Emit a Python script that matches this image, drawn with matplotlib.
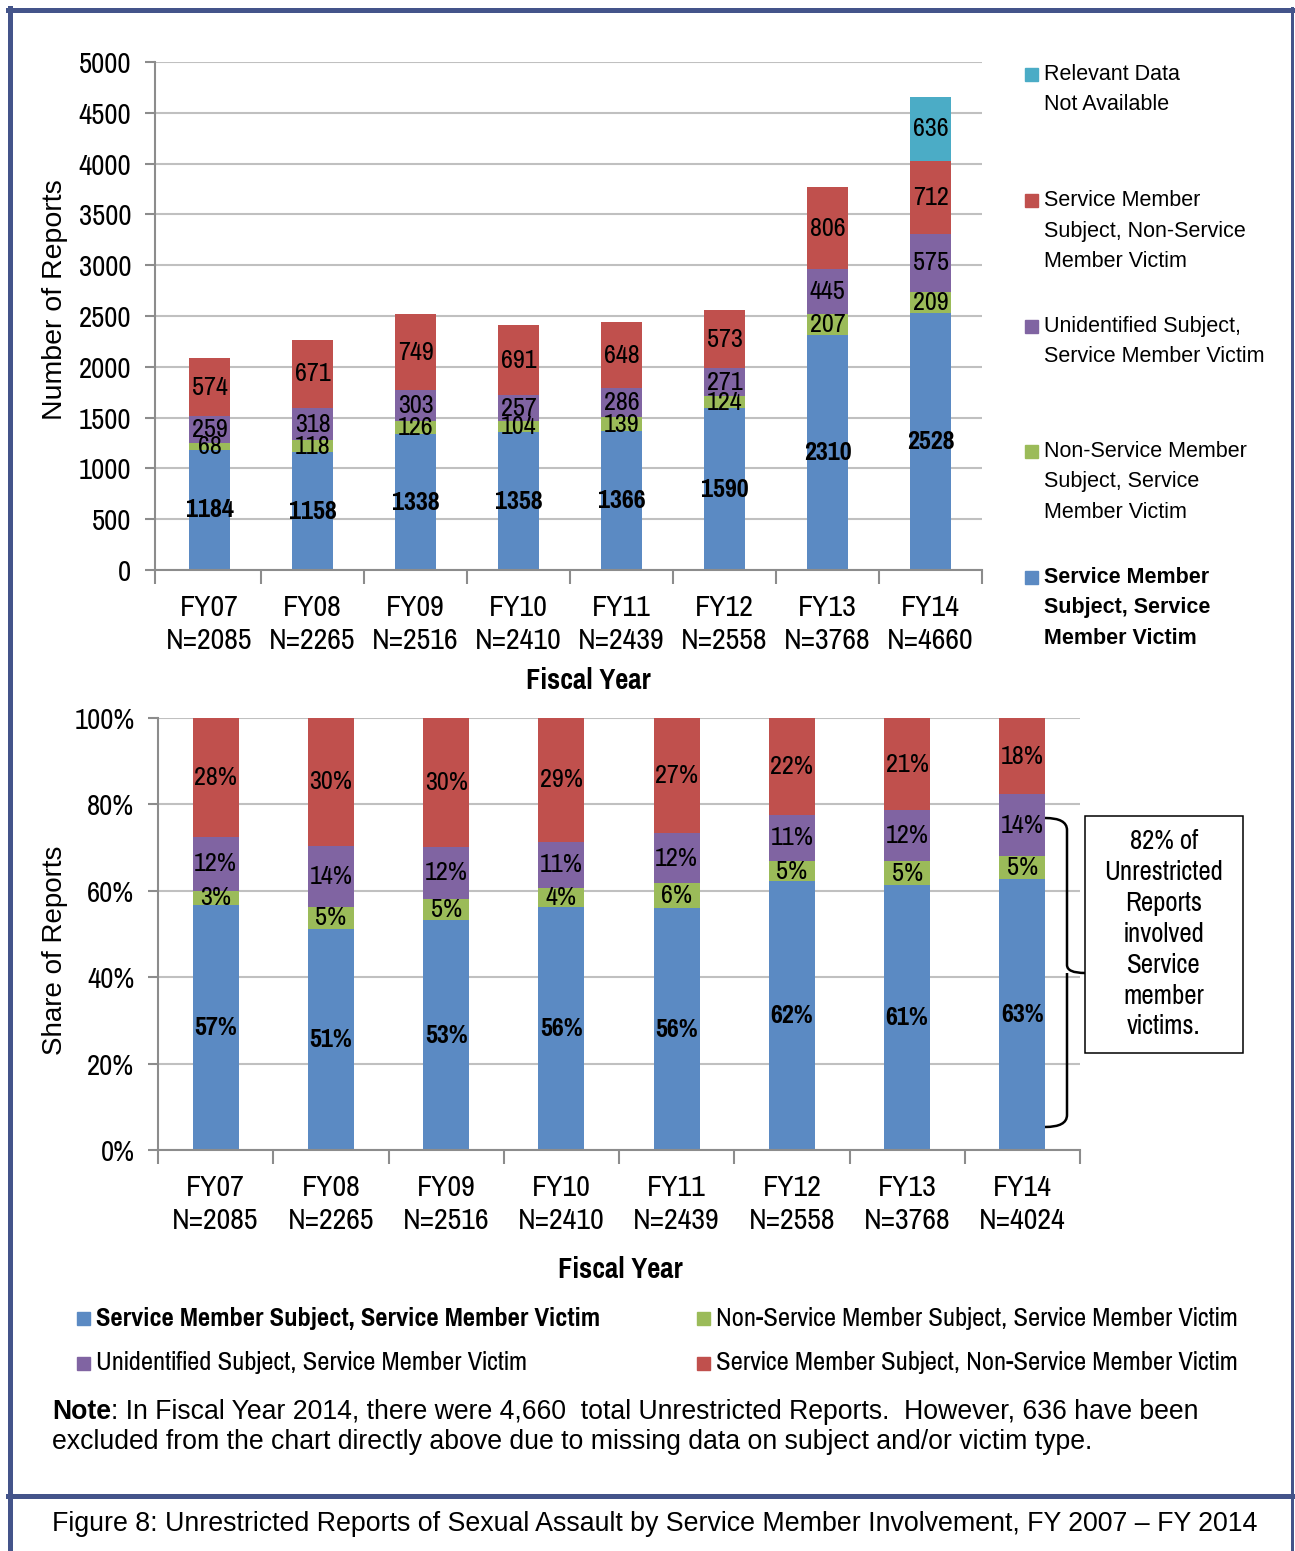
import matplotlib
matplotlib.use("Agg")
import matplotlib.pyplot as plt
from matplotlib.patches import Rectangle, PathPatch
from matplotlib.lines import Line2D
from matplotlib.path import Path
from matplotlib import font_manager
import numpy as np

# data
years = ['FY07', 'FY08', 'FY09', 'FY10', 'FY11', 'FY12', 'FY13', 'FY14']
n_all = [2085, 2265, 2516, 2410, 2439, 2558, 3768, 4660]
n_known = [2085, 2265, 2516, 2410, 2439, 2558, 3768, 4024]
sm_sm = [1184, 1158, 1338, 1358, 1366, 1590, 2310, 2528]
nsm_sm = [68, 118, 126, 104, 139, 124, 207, 209]
unid_sm = [259, 318, 303, 257, 286, 271, 445, 575]
sm_nsm = [574, 671, 749, 691, 648, 573, 806, 712]
not_avail = [0, 0, 0, 0, 0, 0, 0, 636]

C_BLUE = '#5B8AC3'
C_GREEN = '#9BBB59'
C_PURPLE = '#8064A2'
C_RED = '#C0504D'
C_CYAN = '#4BACC6'
FRAME = '#44548A'
GRID = '#C0C0C0'
SPINE = '#8C8C8C'

# pick a narrow sans face if one is installed (the chart uses Arial Narrow)
have = {f.name for f in font_manager.fontManager.ttflist}
narrow_pick = [n for n in ['Liberation Sans Narrow', 'Arial Narrow', 'Pragati Narrow',
                           'Archivo Narrow', 'PT Sans Narrow', 'Roboto Condensed']
               if n in have]
NARROW = narrow_pick[:1] + ['Liberation Sans', 'DejaVu Sans']
ARIAL = ['Liberation Sans', 'DejaVu Sans']

W, H = 1295, 1551
fig = plt.figure(figsize=(W / 100, H / 100), dpi=100)


def fx(x):
    return x / W


def fy(y):
    return 1 - y / H


def style_axes(ax, ticklabels, xmin):
    x = np.arange(len(years))
    xmax = len(years) - 0.5
    ax.set_xlim(xmin, xmax)
    ax.set_xticks(x)
    ax.set_xticklabels(ticklabels, family=NARROW, fontsize=23.5, linespacing=1.3)
    ax.set_xticks([xmin] + list(np.arange(0.5, len(years) - 1)) + [xmax], minor=True)
    ax.tick_params(axis='x', which='major', length=0, pad=17)
    ax.tick_params(axis='x', which='minor', length=10, width=1.5, color=SPINE)
    ax.tick_params(axis='y', length=7, width=1.5, color=SPINE, pad=10)
    for lab in ax.get_yticklabels():
        lab.set_family(NARROW)
        lab.set_fontsize(22.5)
    for s in ['top', 'right']:
        ax.spines[s].set_visible(False)
    for s in ['left', 'bottom']:
        ax.spines[s].set_color(SPINE)
        ax.spines[s].set_linewidth(1.5)
    ax.yaxis.grid(True, color=GRID, linewidth=1.5)
    ax.set_axisbelow(True)


# ---------------- top chart: counts ----------------
ax1 = fig.add_axes([fx(155), fy(570), fx(982) - fx(155), (570 - 62) / H])
x = np.arange(len(years))
bw = 0.4
series = [(sm_sm, C_BLUE, True), (nsm_sm, C_GREEN, False),
          (unid_sm, C_PURPLE, False), (sm_nsm, C_RED, False),
          (not_avail, C_CYAN, False)]
bottom = np.zeros(len(years))
for vals, col, bold in series:
    vals = np.array(vals, dtype=float)
    ax1.bar(x, vals, bw, bottom=bottom, color=col, zorder=2)
    for i, v in enumerate(vals):
        if v > 0:
            ax1.text(x[i], bottom[i] + v / 2, f'{int(v)}', ha='center', va='center',
                     family=NARROW, fontsize=20.5,
                     fontweight='bold' if bold else 'normal', zorder=3)
    bottom += vals
ax1.set_ylim(0, 5000)
ax1.set_yticks(np.arange(0, 5001, 500))
style_axes(ax1, [f'{y}\nN={n}' for y, n in zip(years, n_all)], -0.53)

fig.text(fx(55), fy(300), 'Number of Reports', rotation=90, ha='center', va='center',
         family=ARIAL, fontsize=20.5)
fig.text(fx(588), fy(681), 'Fiscal Year', ha='center', va='center',
         family=NARROW, fontsize=22.5, fontweight='bold')

# right-hand legend of the top chart
legend_top = [
    (C_CYAN, 'Relevant Data\nNot Available', 74, 'normal'),
    (C_RED, 'Service Member\nSubject, Non-Service\nMember Victim', 200, 'normal'),
    (C_PURPLE, 'Unidentified Subject,\nService Member Victim', 326, 'normal'),
    (C_GREEN, 'Non-Service Member\nSubject, Service\nMember Victim', 451, 'normal'),
    (C_BLUE, 'Service Member\nSubject, Service\nMember Victim', 577, 'bold'),
]
for col, lab, ytop, wt in legend_top:
    nl = lab.count('\n')
    fig.add_artist(Rectangle((fx(1025), fy(ytop + 7)), 13 / W, 13 / H,
                             color=col, transform=fig.transFigure))
    fig.text(fx(1044), fy(ytop + nl * 31 / 2), lab, ha='left', va='center', family=ARIAL,
             fontsize=15.5, fontweight=wt, linespacing=1.58)

# ---------------- bottom chart: shares ----------------
ax2 = fig.add_axes([fx(158), fy(1150), fx(1080) - fx(158), (1150 - 718) / H])
bottom = np.zeros(len(years))
tot = np.array(n_known, dtype=float)
for vals, col, bold in series[:4]:
    share = np.array(vals, dtype=float) / tot
    ax2.bar(x, share, bw, bottom=bottom, color=col, zorder=2)
    for i, v in enumerate(share):
        ax2.text(x[i], bottom[i] + v / 2, f'{round(v * 100)}%', ha='center', va='center',
                 family=NARROW, fontsize=20.5,
                 fontweight='bold' if bold else 'normal', zorder=3)
    bottom += share
ax2.set_ylim(0, 1)
ax2.set_yticks(np.arange(0, 1.01, 0.2))
ax2.set_yticklabels([f'{int(round(t * 100))}%' for t in np.arange(0, 1.01, 0.2)])
style_axes(ax2, [f'{y}\nN={n}' for y, n in zip(years, n_known)], -0.5)

fig.text(fx(55), fy(950), 'Share of Reports', rotation=90, ha='center', va='center',
         family=ARIAL, fontsize=20)
fig.text(fx(620), fy(1269), 'Fiscal Year', ha='center', va='center',
         family=NARROW, fontsize=22.5, fontweight='bold')

# brace and call-out box
bx0, bx1, bx2 = 1045, 1067, 1085
yt, ym, yb = 818, 973, 1127
verts = [(bx0, yt), (bx1, yt), (bx1, yt + 12),
         (bx1, ym - 8), (bx1, ym), (bx2, ym),
         (bx1, ym), (bx1, ym + 8),
         (bx1, yb - 12), (bx1, yb), (bx0, yb)]
codes = [Path.MOVETO, Path.CURVE3, Path.CURVE3,
         Path.LINETO, Path.CURVE3, Path.CURVE3,
         Path.MOVETO, Path.CURVE3,
         Path.LINETO, Path.CURVE3, Path.CURVE3]
verts2 = [(fx(a), fy(b)) for a, b in verts]
brace = PathPatch(Path(verts2, codes), facecolor='none', edgecolor='black',
                  linewidth=1.8, transform=fig.transFigure)
fig.add_artist(brace)
fig.add_artist(Rectangle((fx(1085), fy(1053)), (1243 - 1085) / W, (1053 - 816) / H,
                         facecolor='white', edgecolor='black', linewidth=1.1,
                         transform=fig.transFigure))
fig.text(fx(1164), fy(934), '82% of\nUnrestricted\nReports\ninvolved\nService\nmember\nvictims.',
         ha='center', va='center', family=NARROW, fontsize=21, linespacing=1.3)

# bottom legend
legend_bot = [
    (C_BLUE, 'Service Member Subject, Service Member Victim', 77, 1318, 'bold'),
    (C_GREEN, 'Non-Service Member Subject, Service Member Victim', 697, 1318, 'normal'),
    (C_PURPLE, 'Unidentified Subject, Service Member Victim', 77, 1363, 'normal'),
    (C_RED, 'Service Member Subject, Non-Service Member Victim', 697, 1363, 'normal'),
]
for col, lab, lx, ly, wt in legend_bot:
    fig.add_artist(Rectangle((fx(lx), fy(ly + 7)), 13 / W, 13 / H,
                             color=col, transform=fig.transFigure))
    fig.text(fx(lx + 19), fy(ly), lab, ha='left', va='center', family=NARROW,
             fontsize=20.8, fontweight=wt)

# note
note_bold = fig.text(fx(52), fy(1412), 'Note', ha='left', va='center', family=ARIAL,
                     fontsize=19.2, fontweight='bold')
fig.canvas.draw()
bb = note_bold.get_window_extent()
fig.text(bb.x1 / W, fy(1412), ': In Fiscal Year 2014, there were 4,660  total Unrestricted Reports.  However, 636 have been',
         ha='left', va='center', family=ARIAL, fontsize=19.2)
fig.text(fx(52), fy(1442), 'excluded from the chart directly above due to missing data on subject and/or victim type.',
         ha='left', va='center', family=ARIAL, fontsize=19.2)

# frame
for (xa, ya, xb, yb2, lw) in [(10, 8, 10, H, 5), (8, 10, 1294, 10, 5),
                              (1292, 8, 1292, H, 3), (8, 1496, 1294, 1496, 5)]:
    fig.add_artist(Line2D([fx(xa), fx(xb)], [fy(ya), fy(yb2)], color=FRAME,
                          linewidth=lw * 0.72, transform=fig.transFigure))

fig.text(fx(52), fy(1524), 'Figure 8: Unrestricted Reports of Sexual Assault by Service Member Involvement, FY 2007 \u2013 FY 2014',
         ha='left', va='center', family=ARIAL, fontsize=19.3)

fig.savefig('out.png', dpi=100, facecolor='white')
